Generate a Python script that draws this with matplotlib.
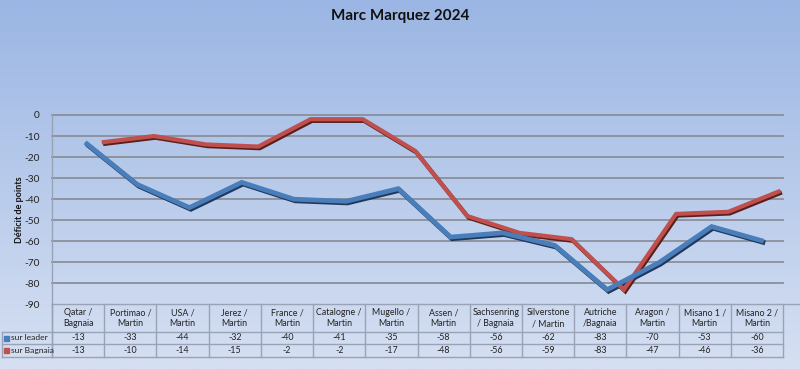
import numpy as np
import matplotlib
matplotlib.use("Agg")
from matplotlib import pyplot as plt
from matplotlib import transforms as mtransforms

plt.rcParams['font.family'] = ['Lato', 'DejaVu Sans']

# data
races = ["Qatar /\nBagnaia", "Portimao /\nMartin", "USA /\nMartin", "Jerez /\nMartin",
         "France /\nMartin", "Catalogne /\nMartin", "Mugello /\nMartin", "Assen /\nMartin",
         "Sachsenring\n/ Bagnaia", "Silverstone\n/ Martin", "Autriche\n/Bagnaia",
         "Aragon /\nMartin", "Misano 1 /\nMartin", "Misano 2 /\nMartin"]
sur_leader = [-13, -33, -44, -32, -40, -41, -35, -58, -56, -62, -83, -70, -53, -60]
sur_bagnaia = [-13, -10, -14, -15, -2, -2, -17, -48, -56, -59, -83, -47, -46, -36]
series_names = ["sur leader", "sur Bagnaia"]
yticks = list(range(0, -100, -10))

blue = "#4a7ebb"
red = "#c0504d"
blue_dark = "#22385a"
red_dark = "#5a1f1d"
grid_col = "#8a8f99"
tab_col = "#9aa3b5"

W, H = 800, 369
fig = plt.figure(figsize=(W / 100, H / 100), dpi=100)

# gradient background
bg = fig.add_axes([0, 0, 1, 1], zorder=-10)
top = np.array([155, 182, 228]) / 255
bot = np.array([214, 224, 242]) / 255
t = np.linspace(0, 1, 256)[:, None]
grad = top[None, :] * (1 - t) + bot[None, :] * t
bg.imshow(grad[:, None, :], aspect='auto', extent=[0, 1, 0, 1])
bg.axis('off')

# plot area
x0, x1 = 52, 783
y_top, y_bot = 115, 304.4
ax = fig.add_axes([x0 / W, (H - y_bot) / H, (x1 - x0) / W, (y_bot - y_top) / H])
ax.patch.set_alpha(0)
n = len(races)
xs = np.arange(n)
ax.set_xlim(-0.5, n - 0.5)
ax.set_ylim(-90, 0)

for v in yticks[:-1]:
    ax.axhline(v, color=grid_col, lw=1.3, zorder=1, clip_on=False)

for s in ["top", "right", "bottom"]:
    ax.spines[s].set_visible(False)
ax.spines["left"].set_color(tab_col)
ax.spines["left"].set_linewidth(1)
ax.set_xticks([])
ax.set_yticks(yticks)
ax.set_yticklabels([str(v) for v in yticks], fontsize=7.3, color="#222222")
ax.tick_params(axis='y', length=0, pad=9)

fig.text(20 / W, (H - 210) / H, "Déficit de points", rotation=90, fontsize=6.5,
         fontweight='bold', ha='center', va='center', color="#111111")

# pseudo 3D ribbons: red series sits further back (shifted right)
def ribbon(vals, col, dark, dx, lw):
    back = mtransforms.offset_copy(ax.transData, fig=fig, x=dx + 1.0, y=-1.2, units='points')
    front = mtransforms.offset_copy(ax.transData, fig=fig, x=dx, y=0, units='points')
    ax.plot(xs, vals, color=dark, lw=lw, transform=back, solid_capstyle='butt',
            solid_joinstyle='miter', clip_on=False, zorder=3)
    ax.plot(xs, vals, color=col, lw=lw, transform=front, solid_capstyle='butt',
            solid_joinstyle='miter', clip_on=False, zorder=4)

ribbon(sur_bagnaia, red, red_dark, 17, 3.0)
ribbon(sur_leader, blue, blue_dark, 5, 3.4)

# data table below the axis
trans = mtransforms.blended_transform_factory(ax.transData, fig.transFigure)
def fy(py):
    return (H - py) / H

hdr_top, row1, row2, row3 = 304.4, 332, 344, 357
edges = np.arange(n + 1) - 0.5
fig.add_artist(plt.Line2D([x0 / W, 800 / W], [fy(hdr_top)] * 2, color=tab_col, lw=1))
for yy in [row1, row2, row3]:
    fig.add_artist(plt.Line2D([2 / W, x1 / W], [fy(yy)] * 2, color=tab_col, lw=1))
for e in edges:
    ax.plot([e, e], [fy(hdr_top), fy(row3)], color=tab_col, lw=1, transform=trans, clip_on=False)
fig.add_artist(plt.Line2D([2 / W, 2 / W], [fy(row1), fy(row3)], color=tab_col, lw=1))
fig.add_artist(plt.Line2D([x0 / W, x0 / W], [fy(hdr_top), fy(row3)], color=tab_col, lw=1))

for i, name in enumerate(races):
    ax.text(i, fy((hdr_top + row1) / 2), name, transform=trans, ha='center', va='center',
            fontsize=6.4, linespacing=1.25, color="#222222")
    ax.text(i, fy((row1 + row2) / 2), str(sur_leader[i]), transform=trans, ha='center',
            va='center', fontsize=6.4, color="#222222")
    ax.text(i, fy((row2 + row3) / 2), str(sur_bagnaia[i]), transform=trans, ha='center',
            va='center', fontsize=6.4, color="#222222")

for (yy, name, col) in [((row1 + row2) / 2, series_names[0], blue),
                        ((row2 + row3) / 2, series_names[1], red)]:
    fig.add_artist(plt.Rectangle((4 / W, fy(yy) - 2.5 / H), 5 / W, 5 / H, color=col,
                                 transform=fig.transFigure))
    fig.text(11 / W, fy(yy), name, fontsize=6.1, va='center', ha='left', color="#222222")

fig.text(0.5, fy(16), "Marc Marquez 2024", ha='center', va='center', fontsize=11,
         fontweight='bold', color="#111111")

fig.savefig("out.png", dpi=100)
